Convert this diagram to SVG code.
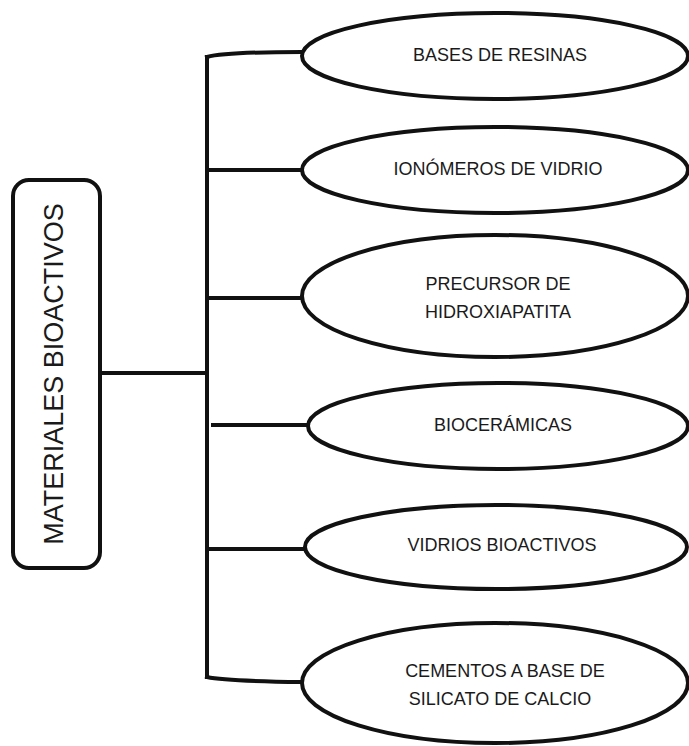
<svg xmlns="http://www.w3.org/2000/svg" width="689" height="746" viewBox="0 0 689 746">
<style>
.node ellipse, .node rect { fill: #ffffff; stroke: #111111; stroke-width: 4; }
.conn line, .conn path { stroke: #111111; stroke-width: 4; fill: none; stroke-linecap: square; }
text { font-family: "Liberation Sans", Arial, sans-serif; fill: #1a1a1a; text-anchor: middle; }
.lbl { font-size: 18px; }
.root { font-size: 27px; }
</style>
<rect width="689" height="746" fill="#ffffff"/>
<g id="connectors" class="conn">
  <line x1="100" y1="373" x2="207" y2="373"/>
  <line x1="207" y1="57" x2="207" y2="677"/>
  <path d="M207,57 Q225,52 302,52"/>
  <line x1="207" y1="170" x2="302" y2="170"/>
  <line x1="207" y1="298" x2="302" y2="298"/>
  <line x1="213" y1="425" x2="308" y2="425"/>
  <line x1="207" y1="549" x2="305" y2="549"/>
  <path d="M207,677 Q225,681 302,682"/>
</g>
<g id="root" class="node">
  <rect x="13" y="180" width="87" height="388" rx="16" ry="16"/>
  <text class="root" transform="translate(63,374) rotate(-90)">MATERIALES BIOACTIVOS</text>
</g>
<g id="bases" class="node">
  <ellipse cx="495" cy="56" rx="193" ry="43"/>
  <text class="lbl" x="500" y="61">BASES DE RESINAS</text>
</g>
<g id="ionomeros" class="node">
  <ellipse cx="495" cy="170" rx="193" ry="43"/>
  <text class="lbl" x="498" y="175">IONÓMEROS DE VIDRIO</text>
</g>
<g id="precursor" class="node">
  <ellipse cx="495" cy="296" rx="193" ry="61"/>
  <text class="lbl" x="498" y="290">PRECURSOR DE</text>
  <text class="lbl" x="498" y="318">HIDROXIAPATITA</text>
</g>
<g id="bioceramicas" class="node">
  <ellipse cx="498" cy="426" rx="190" ry="43"/>
  <text class="lbl" x="503" y="431">BIOCERÁMICAS</text>
</g>
<g id="vidrios" class="node">
  <ellipse cx="496" cy="547" rx="191" ry="42"/>
  <text class="lbl" x="502" y="551">VIDRIOS BIOACTIVOS</text>
</g>
<g id="cementos" class="node">
  <ellipse cx="495" cy="683" rx="193" ry="60"/>
  <text class="lbl" x="505" y="677">CEMENTOS A BASE DE</text>
  <text class="lbl" x="500" y="705">SILICATO DE CALCIO</text>
</g>
</svg>
